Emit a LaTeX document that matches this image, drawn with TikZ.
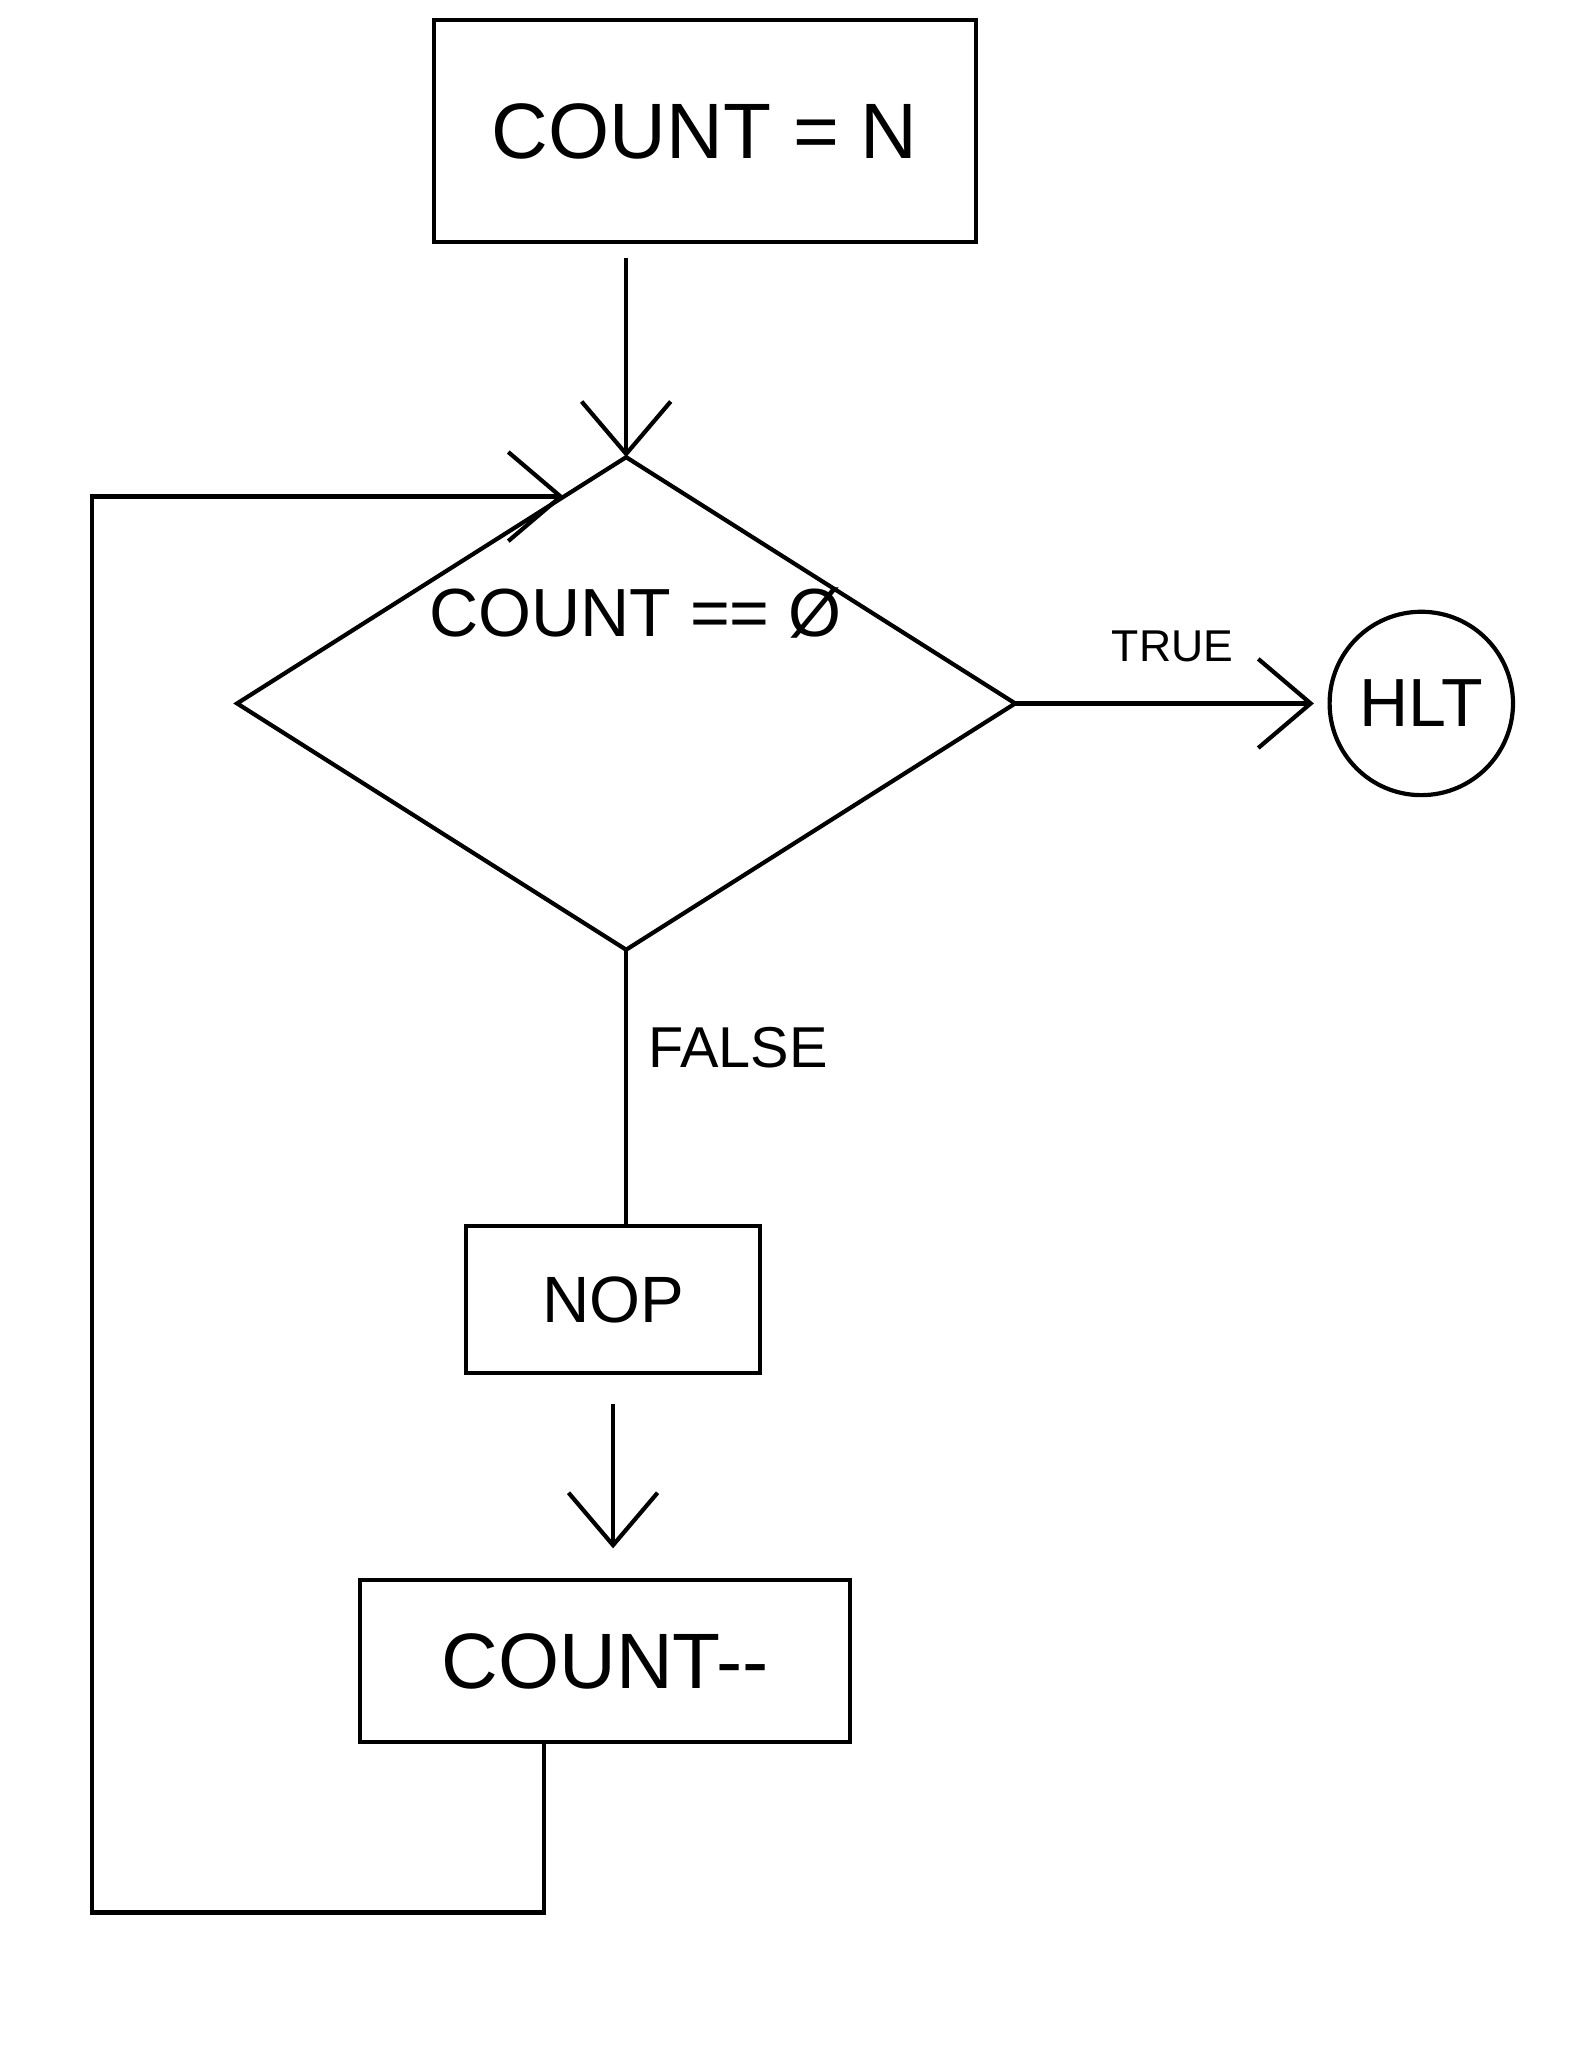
\documentclass[tikz,border=0pt]{standalone}
\usepackage{fontspec}
\setmainfont{Liberation Sans}
\usetikzlibrary{arrows.meta,shapes.geometric,calc}
\begin{document}
\begin{tikzpicture}[x=0.5pt,y=-0.5pt,
  line width=1.6pt,
  every node/.style={inner sep=0pt,outer sep=0pt},
  procbox/.style={draw,rectangle},
  decision/.style={draw,diamond,minimum width=297pt,minimum height=188pt,aspect=1.58},
  endcircle/.style={draw,circle,minimum size=70pt},
  arr/.style={-{Straight Barb[length=20pt,width=34pt,line width=1.6pt]}},
  lbl/.style={font=\fontsize{#1}{#1}\selectfont}
]
\useasboundingbox (0,0) rectangle (1203,1568);

\node[procbox,minimum width=207pt,minimum height=85pt,lbl=30pt] (countn) at (538,100) {COUNT = N};
\node[decision] (dec) at (478,537) {};
\node[lbl=26pt] (declbl) at (485,468) {COUNT == Ø};
\node[endcircle,lbl=26pt] (hlt) at (1085,537) {HLT};
\node[procbox,minimum width=112pt,minimum height=56pt,lbl=25pt] (nop) at (468,992) {NOP};
\node[procbox,minimum width=187pt,minimum height=62pt,lbl=30pt] (cdec) at (462,1268) {COUNT-{}-};

% start -> decision
\draw[arr,shorten <=6pt] (countn.south -| dec.north) -- (dec.north);

% TRUE branch
\draw[arr,shorten >=6pt] (dec.east) -- node[above=16pt,lbl=17pt] (truelbl) {TRUE} (hlt.west);

% FALSE branch
\draw (dec.south) -- (dec.south |- nop.north);
\node[lbl=22pt,anchor=west] (falselbl) at (495,800) {FALSE};

% NOP -> COUNT--
\draw[arr,shorten <=12pt,shorten >=12pt] (nop.south) -- (nop.south |- cdec.north);

% loop back
\coordinate (entry) at ($(dec.north)!0.16!(dec.west)$);
\coordinate (l1) at (415,1460);
\coordinate (l2) at (70,1460);
\draw[arr] (cdec.south -| l1) -- (l1) -- (l2) -- (l2 |- entry) -- (entry);
\end{tikzpicture}
\end{document}
